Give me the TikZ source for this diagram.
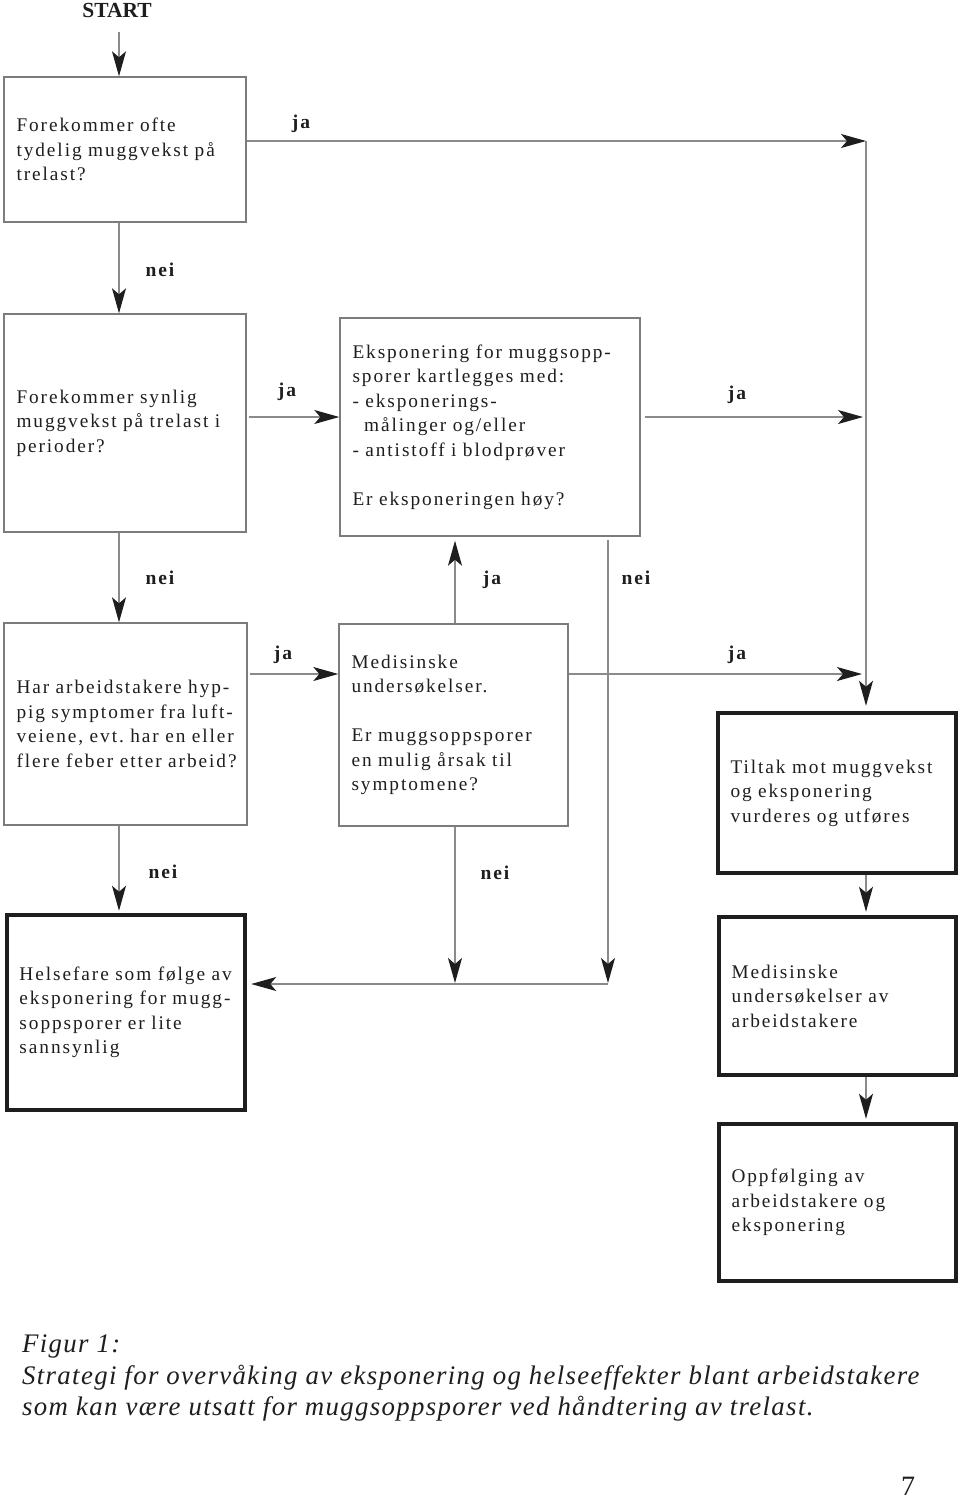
\documentclass[tikz,border=0pt]{standalone}
\usepackage{fontspec}
\setmainfont{Liberation Serif}
\newfontfamily\boxfont[LetterSpace=10]{Liberation Serif}
\newfontfamily\lblfont[LetterSpace=10]{Liberation Serif}
\newfontfamily\capfont[LetterSpace=5]{Liberation Serif}
\usetikzlibrary{arrows.meta}
\definecolor{linegray}{HTML}{8A8A8A}
\definecolor{boxgray}{HTML}{7C7C7C}
\definecolor{ink}{HTML}{1E1E1E}
\newcommand\flowbox[7]{%
 \pgfmathsetmacro\fbW{#4-#2}%
 \pgfmathsetmacro\fbH{#5-#3}%
 \pgfmathsetmacro\fbT{#4-#2-25}%
 \pgfmathsetmacro\fbX{(#2+#4)/2}%
 \pgfmathsetmacro\fbY{(#3+#5)/2}%
 \node[#6, minimum width=\fbW pt, minimum height=\fbH pt, text width=\fbT pt] (#1) at (\fbX,\fbY) {#7};}
\tikzset{
 box/.style={rectangle, draw=boxgray, line width=1.4pt, inner xsep=12.5pt, inner ysep=0pt, align=left, text=ink, font=\boxfont\fontsize{19.3}{24.5}\selectfont},
 heavybox/.style={box, draw=ink, line width=4.5pt},
 arr/.style={draw=linegray, line width=1.2pt, -{Stealth[length=25pt,width=14pt,inset=6pt,color=ink]}},
 lbl/.style={font=\lblfont\bfseries\fontsize{19.5}{22}\selectfont, text=ink, inner sep=0pt},
 captext/.style={font=\capfont\itshape\fontsize{26.8}{31}\selectfont, text=ink, inner sep=0pt, anchor=base west},
}
\begin{document}
\begin{tikzpicture}[x=1pt,y=-1pt]
\fill[white] (0,0) rectangle (960,1500);
\useasboundingbox (0,0) rectangle (960,1500);
% lanes and rows
\coordinate (L1) at (119,0);
\coordinate (L2) at (455,0);
\coordinate (L3) at (608,0);
\coordinate (L4) at (866,0);
\coordinate (R1) at (0,141);
\coordinate (R2) at (0,417);
\coordinate (R3) at (0,674);
\coordinate (R4) at (0,984);
% boxes
\node[font=\bfseries\fontsize{21.5}{24}\selectfont, text=ink, anchor=base] (start) at (117,17) {START};
\flowbox{A}{4}{77}{246}{222}{box}{Forekommer~ofte\\tydelig~muggvekst~på\\trelast?}
\flowbox{B}{4}{314}{246}{532}{box}{Forekommer~synlig\\muggvekst~på~trelast~i\\perioder?}
\flowbox{C}{340}{318}{640}{536}{box}{Eksponering~for~muggsopp-\\sporer~kartlegges~med:\\-~eksponerings-\\\hspace*{11.7pt}målinger~og/eller\\-~antistoff~i~blodprøver\\\mbox{}\\Er~eksponeringen~høy?}
\flowbox{D}{4}{623}{247}{825}{box}{Har~arbeidstakere~hyp-\\pig~symptomer~fra~luft-\\veiene,~evt.~har~en~eller\\flere~feber~etter~arbeid?}
\flowbox{E}{339}{624}{568}{826}{box}{Medisinske\\undersøkelser.\\\mbox{}\\Er~muggsoppsporer\\en~mulig~årsak~til\\symptomene?}
\flowbox{F}{718}{713}{956}{873}{heavybox}{Tiltak~mot~muggvekst\\og~eksponering\\vurderes~og~utføres}
\flowbox{G}{7}{915}{245}{1110}{heavybox}{Helsefare~som~følge~av\\eksponering~for~mugg-\\soppsporer~er~lite\\sannsynlig}
\flowbox{H}{719}{917}{956}{1075}{heavybox}{Medisinske\\undersøkelser~av\\arbeidstakere}
\flowbox{I}{719}{1124}{956}{1281}{heavybox}{Oppfølging~av\\arbeidstakere~og\\eksponering}
% connectors
\draw[arr, shorten <=11pt] (start.south -| L1) -- (A.north -| L1);
\draw[arr] (A.east |- R1) -- (L4 |- R1);
\draw[arr, shorten >=5pt] (L4 |- R1) -- (F.north -| L4);
\draw[arr] (A.south -| L1) -- (B.north -| L1);
\draw[arr, shorten <=2pt] (B.east |- R2) -- (C.west |- R2);
\draw[arr, shorten <=4pt, shorten >=3pt] (C.east |- R2) -- (L4 |- R2);
\draw[arr] (B.south -| L1) -- (D.north -| L1);
\draw[arr, shorten >=4pt] (E.north -| L2) -- (C.south -| L2);
\draw[arr, shorten <=3pt, shorten >=1pt] (C.south -| L3) -- (L3 |- R4);
\draw[arr, shorten <=2pt] (D.east |- R3) -- (E.west |- R3);
\draw[arr, shorten >=4pt] (E.east |- R3) -- (L4 |- R3);
\draw[arr, shorten >=2pt] (D.south -| L1) -- (G.north -| L1);
\draw[arr, shorten >=1pt] (E.south -| L2) -- (L2 |- R4);
\draw[arr, shorten >=4pt] (L3 |- R4) -- (G.east |- R4);
\draw[arr, shorten >=3pt] (F.south -| L4) -- (H.north -| L4);
\draw[arr, shorten >=3pt] (H.south -| L4) -- (I.north -| L4);
% labels
\node[lbl] (l1) at (301,124) {ja};
\node[lbl] (l2) at (160,270) {nei};
\node[lbl] (l3) at (287,392) {ja};
\node[lbl] (l4) at (737,395) {ja};
\node[lbl] (l5) at (160,578) {nei};
\node[lbl] (l6) at (492,580) {ja};
\node[lbl] (l7) at (636,578) {nei};
\node[lbl] (l8) at (283,655) {ja};
\node[lbl] (l9) at (737,655) {ja};
\node[lbl] (l10) at (163,872) {nei};
\node[lbl] (l11) at (495,873) {nei};
% caption
\node[captext] (cap1) at (22,1352) {Figur 1:};
\node[captext] (cap2) at (22,1384) {Strategi for overvåking av eksponering og helseeffekter blant arbeidstakere};
\node[captext] (cap3) at (22,1415) {som kan være utsatt for muggsoppsporer ved håndtering av trelast.};
\node[font=\fontsize{28}{30}\selectfont, text=ink, anchor=base] (pnum) at (908,1495) {7};
\end{tikzpicture}
\end{document}
